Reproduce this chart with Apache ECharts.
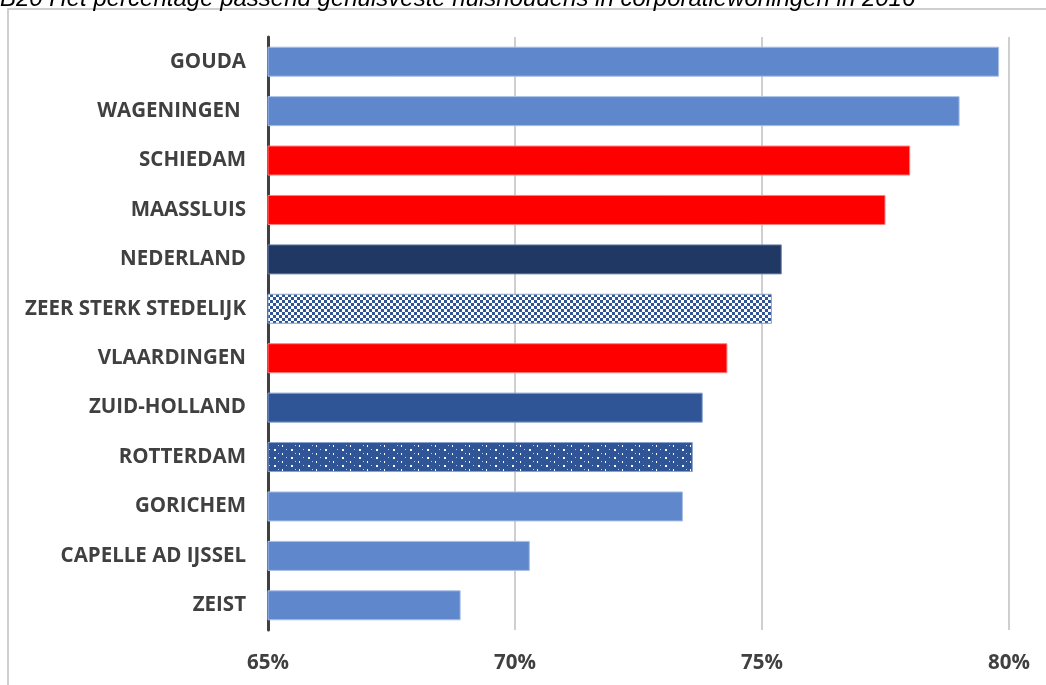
<!DOCTYPE html>
<html>
<head>
<meta charset="utf-8">
<script src="https://cdn.jsdelivr.net/npm/echarts@6/dist/echarts.min.js"></script>
<style>
html,body{margin:0;padding:0;background:#fff;}
#chart{width:1046px;height:685px;}
</style>
</head>
<body>
<div id="chart"></div>
<script>
const titleText = 'B20 Het percentage passend gehuisveste huishoudens in corporatiewoningen in 2016';
const categories = ['GOUDA', 'WAGENINGEN ', 'SCHIEDAM', 'MAASSLUIS', 'NEDERLAND', 'ZEER STERK STEDELIJK', 'VLAARDINGEN', 'ZUID-HOLLAND', 'ROTTERDAM', 'GORICHEM', 'CAPELLE AD IJSSEL', 'ZEIST'];
const values = [79.8, 79.0, 78.0, 77.5, 75.4, 75.2, 74.3, 73.8, 73.6, 73.4, 70.3, 68.9];
const fillKinds = ['light', 'light', 'red', 'red', 'navy', 'checker', 'red', 'mid', 'dots', 'light', 'light', 'light'];
const tickValues = [65, 70, 75, 80];

function checkerPattern() {
  const c = document.createElement('canvas');
  c.width = 6; c.height = 6;
  const g = c.getContext('2d');
  g.fillStyle = '#ffffff'; g.fillRect(0, 0, 6, 6);
  g.fillStyle = '#2F5597';
  g.fillRect(0, 0, 3, 3); g.fillRect(3, 3, 3, 3);
  return { image: c, repeat: 'repeat' };
}
function dotPattern() {
  const c = document.createElement('canvas');
  c.width = 17; c.height = 8;
  const g = c.getContext('2d');
  g.fillStyle = '#2F5597'; g.fillRect(0, 0, 17, 8);
  g.fillStyle = '#ffffff';
  g.fillRect(2, 1, 2, 2);
  g.fillRect(10, 5, 1, 2);
  g.fillStyle = 'rgba(255,255,255,0.7)';
  g.fillRect(6, 5, 1, 1);
  g.fillRect(14, 1, 1, 1);
  return { image: c, repeat: 'repeat' };
}
const styles = {
  light: { color: '#5F87CC', borderColor: '#A9BFE6', borderWidth: 1 },
  red: { color: '#FF0000', borderColor: '#FF8080', borderWidth: 1 },
  navy: { color: '#203864', borderColor: '#6F84A8', borderWidth: 1 },
  mid: { color: '#2F5597', borderColor: '#8AA2CC', borderWidth: 1 },
  checker: { color: checkerPattern(), borderColor: '#8AA2CC', borderWidth: 1 },
  dots: { color: dotPattern(), borderColor: '#8AA2CC', borderWidth: 1 }
};

const chart = echarts.init(document.getElementById('chart'), null, { renderer: 'canvas' });
const font = '"Open Sans", "Liberation Sans", sans-serif';
chart.setOption({
  animation: false,
  backgroundColor: '#ffffff',
  graphic: [
    { type: 'rect', shape: { x: 8, y: 9, width: 1100, height: 700 }, style: { fill: 'none', stroke: '#C0C0C0', lineWidth: 1.5 }, z: -10, silent: true },
    { type: 'text', x: 0, y: 11, style: { text: titleText, font: 'italic 24px "Liberation Sans", Arial, sans-serif', fill: '#000000', verticalAlign: 'bottom' }, silent: true }
  ],
  grid: { left: 268, right: 37, top: 37, bottom: 55, containLabel: false },
  xAxis: {
    type: 'value', min: tickValues[0], max: tickValues[tickValues.length - 1], interval: 5,
    axisLine: { show: false }, axisTick: { show: false },
    splitLine: { show: true, lineStyle: { color: '#BFBFBF', width: 1.5 } },
    axisLabel: { formatter: v => v + '%', color: '#404040', fontWeight: 'bold', fontSize: 20.5, fontFamily: font, margin: 23 }
  },
  yAxis: {
    type: 'category', data: categories, inverse: true,
    axisLine: { show: true, lineStyle: { color: '#404040', width: 3 } },
    axisTick: { show: false },
    axisLabel: { color: '#404040', fontWeight: 'bold', fontSize: 20.5, fontFamily: font, margin: 22 }
  },
  series: [{
    type: 'bar', barWidth: 30,
    data: values.map((v, i) => ({ value: v, itemStyle: styles[fillKinds[i]] }))
  }]
});
</script>
</body>
</html>
